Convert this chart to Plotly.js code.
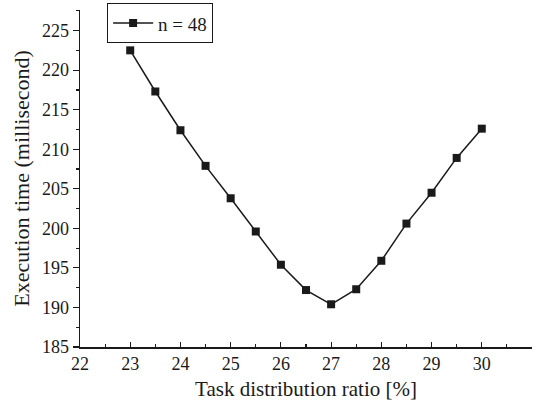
<!DOCTYPE html>
<html><head><meta charset="utf-8">
<script src="https://cdn.plot.ly/plotly-3.0.1.min.js"></script>
<style>html,body{margin:0;padding:0;background:#fff}</style>
</head><body><div id="chart" style="width:540px;height:404px"></div>
<script>
const ratio = [23, 23.5, 24, 24.5, 25, 25.5, 26, 26.5, 27, 27.5, 28, 28.5, 29, 29.5, 30];
const execTime = [222.5, 217.3, 212.4, 207.9, 203.8, 199.6, 195.4, 192.2, 190.4, 192.3, 195.9, 200.6, 204.5, 208.9, 212.6];
const seriesName = "n = 48";
const xTicks = [22, 23, 24, 25, 26, 27, 28, 29, 30, 31];
const yTicks = [185, 190, 195, 200, 205, 210, 215, 220, 225];

const font = {family: '"Liberation Serif", "Times New Roman", serif', color: '#1a1a1a'};
const trace = {
  x: ratio, y: execTime, name: seriesName, type: 'scatter', mode: 'lines+markers',
  line: {color: '#1a1a1a', width: 1.5},
  marker: {symbol: 'square', size: 8, color: '#1a1a1a'}
};
const layout = {
  width: 540, height: 404,
  margin: {l: 80, r: 8, t: 10, b: 57, autoexpand: false},
  paper_bgcolor: '#fff', plot_bgcolor: '#fff',
  font: Object.assign({size: 18}, font),
  showlegend: true,
  legend: {x: 0.06, y: 1.02, xanchor: 'left', yanchor: 'top', bordercolor: '#1a1a1a', borderwidth: 1,
    bgcolor: '#fff', font: Object.assign({size: 19}, font), itemwidth: 40, tracegroupgap: 0},
  xaxis: {
    range: [22, 31], tickvals: xTicks, ticktext: xTicks.map(String),
    showgrid: false, zeroline: false, showline: true, linecolor: '#1a1a1a', linewidth: 1.5,
    ticks: 'inside', ticklen: 5, tickcolor: '#1a1a1a', tickwidth: 1.2,
    minor: {dtick: 0.5, ticks: 'inside', ticklen: 3, tickcolor: '#1a1a1a', tickwidth: 1.2},
    tickfont: Object.assign({size: 18}, font), automargin: false,
    title: {text: 'Task distribution ratio [%]', font: Object.assign({size: 21}, font), standoff: 8}
  },
  yaxis: {
    range: [185, 227.6], tickvals: yTicks, ticktext: yTicks.map(String),
    showgrid: false, zeroline: false, showline: true, linecolor: '#1a1a1a', linewidth: 1.5,
    ticks: 'outside', ticklen: 6, tickcolor: '#1a1a1a', tickwidth: 1.2,
    minor: {dtick: 2.5, ticks: 'outside', ticklen: 3, tickcolor: '#1a1a1a', tickwidth: 1.2},
    tickfont: Object.assign({size: 18}, font), automargin: false,
    title: {text: 'Execution time (millisecond)', font: Object.assign({size: 22}, font), standoff: 6}
  }
};
Plotly.newPlot('chart', [trace], layout, {displayModeBar: false, staticPlot: true});
</script></body></html>
